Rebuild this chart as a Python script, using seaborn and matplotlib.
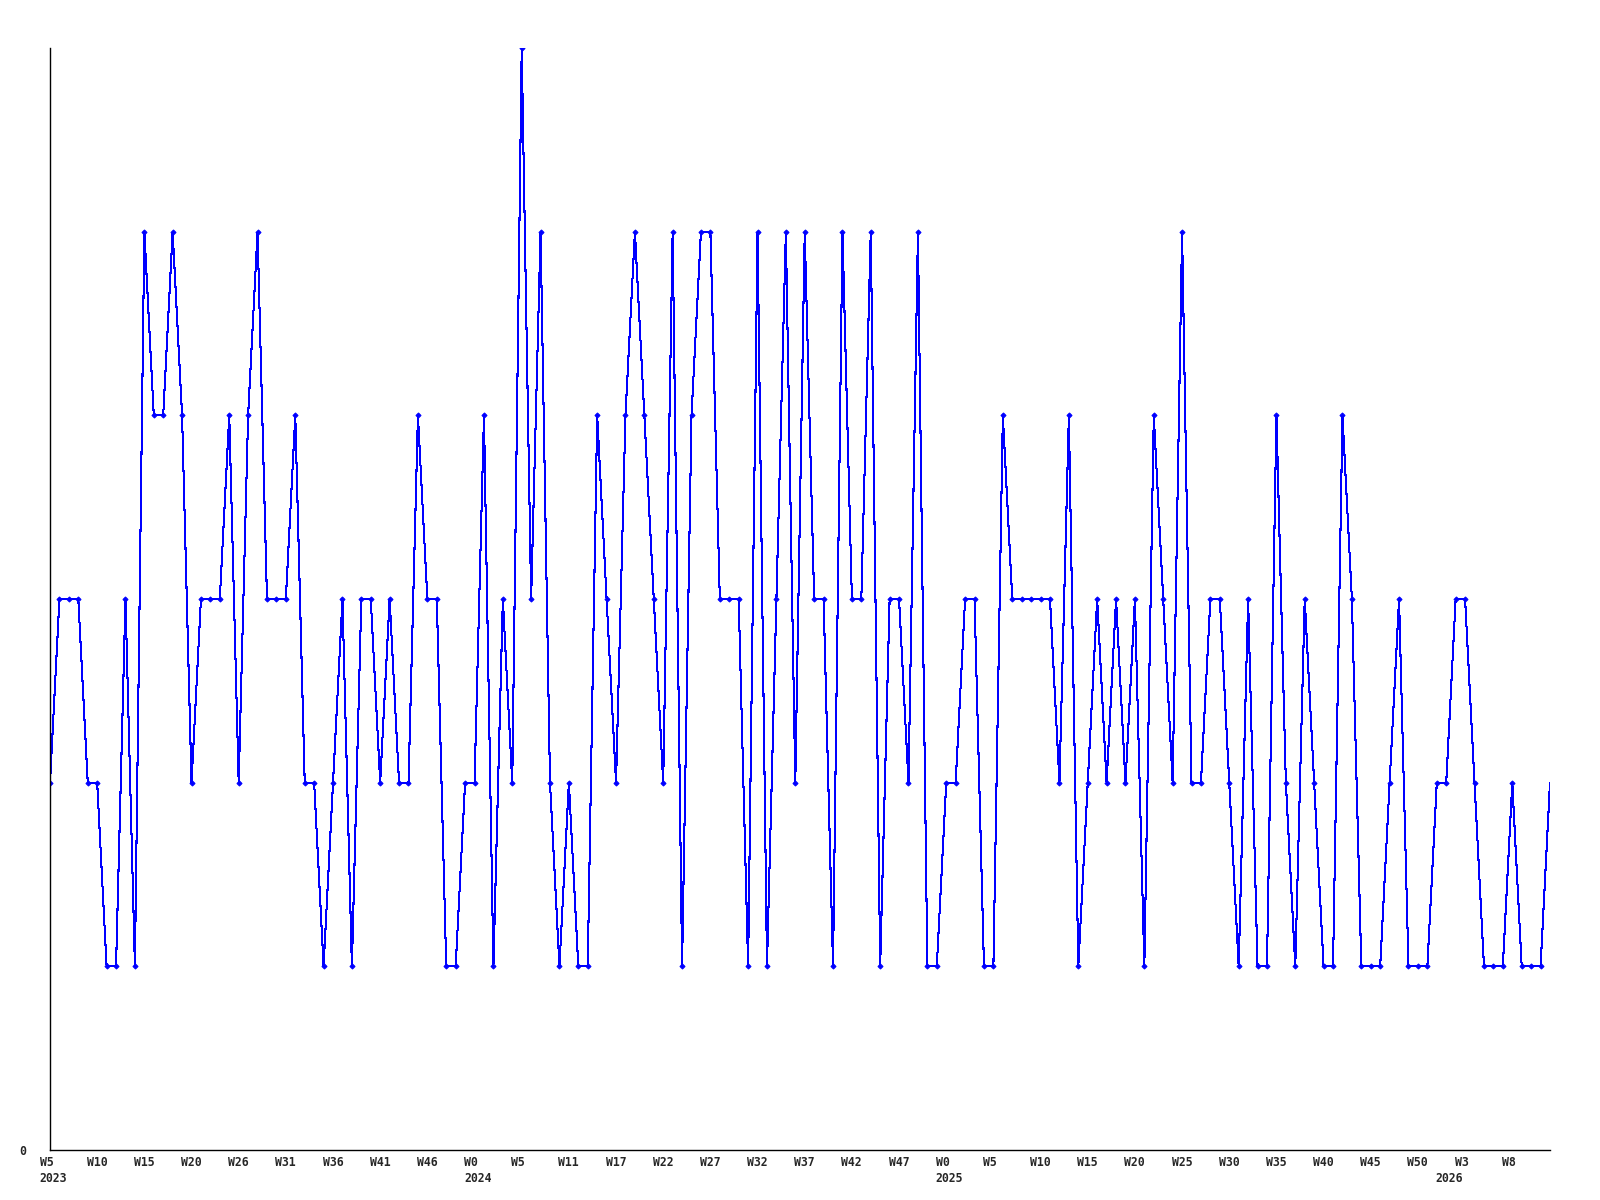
import matplotlib
matplotlib.use("Agg")
import matplotlib.pyplot as plt
import matplotlib.transforms as mtransforms
import seaborn as sns
import pandas as pd

# weekly counts, 2023 W5 .. 2026 ~W12
values = [2, 3, 3, 3, 2, 2, 1, 1, 3, 1,
          5, 4, 4, 5, 4, 2, 3, 3, 3, 4,
          2, 4, 5, 3, 3, 3, 4, 2, 2, 1,
          2, 3, 1, 3, 3, 2, 3, 2, 2, 4,
          3, 3, 1, 1, 2, 2, 4, 1, 3, 2,
          6, 3, 5, 2, 1, 2, 1, 1, 4, 3,
          2, 4, 5, 4, 3, 2, 5, 1, 4, 5,
          5, 3, 3, 3, 1, 5, 1, 3, 5, 2,
          5, 3, 3, 1, 5, 3, 3, 5, 1, 3,
          3, 2, 5, 1, 1, 2, 2, 3, 3, 1,
          1, 4, 3, 3, 3, 3, 3, 2, 4, 1,
          2, 3, 2, 3, 2, 3, 1, 4, 3, 2,
          5, 2, 2, 3, 3, 2, 1, 3, 1, 1,
          4, 2, 1, 3, 2, 1, 1, 4, 3, 1,
          1, 1, 2, 3, 1, 1, 1, 2, 2, 3,
          3, 2, 1, 1, 1, 2, 1, 1, 1, 2]

week_labels = ["W5", "W10", "W15", "W20", "W26", "W31", "W36", "W41", "W46",
               "W0", "W5", "W11", "W17", "W22", "W27", "W32", "W37", "W42", "W47",
               "W0", "W5", "W10", "W15", "W20", "W25", "W30", "W35", "W40", "W45", "W50",
               "W3", "W8"]
years = ["2023", "2024", "2025", "2026"]
year_start = [0, 45, 95, 148]  # first week of each year in the series

df = pd.DataFrame({"week": range(len(values)), "count": values})

sns.set_style("white")
plt.rcParams["font.family"] = ["DejaVu Sans Mono"]

fig = plt.figure(figsize=(16, 12), dpi=100)
ax = fig.add_axes([50 / 1600, 1 - 1150 / 1200, 1500 / 1600, 1102 / 1200])

sns.lineplot(data=df, x="week", y="count", ax=ax, color="#0000ff", lw=0.75,
             marker="D", markersize=2.6, markeredgewidth=0.7, markeredgecolor="#0000ff",
             markevery=list(range(len(values) - 1)), antialiased=False)

ax.set_xlim(0, len(values) - 1)
ax.set_ylim(0, 6)
ax.set_xlabel("")
ax.set_ylabel("")

for s in ["top", "right"]:
    ax.spines[s].set_visible(False)
for s in ["left", "bottom"]:
    ax.spines[s].set_color("black")
    ax.spines[s].set_linewidth(1.0)

# year row sits under the week row; keep minor ticks even where they hit a major one
ax.xaxis.remove_overlapping_locs = False
tick_pos = [i * 5 for i in range(len(week_labels))]
ax.set_xticks(tick_pos, week_labels)
ax.set_xticks(year_start, years, minor=True)
ax.set_yticks([0], ["0"])
ax.tick_params(axis="x", which="major", length=0, pad=4.5, labelsize=8.3)
ax.tick_params(axis="x", which="minor", length=0, pad=16, labelsize=8.3)
ax.tick_params(axis="y", length=0, pad=17, labelsize=8.3)

shift = mtransforms.ScaledTranslation(-10.5 / 100, 0, fig.dpi_scale_trans)
for lab in ax.get_xticklabels() + ax.get_xticklabels(minor=True):
    lab.set_horizontalalignment("left")
    lab.set_fontweight("bold")
    lab.set_transform(lab.get_transform() + shift)
for lab in ax.get_yticklabels():
    lab.set_fontweight("bold")

fig.savefig("out.png", dpi=100)
